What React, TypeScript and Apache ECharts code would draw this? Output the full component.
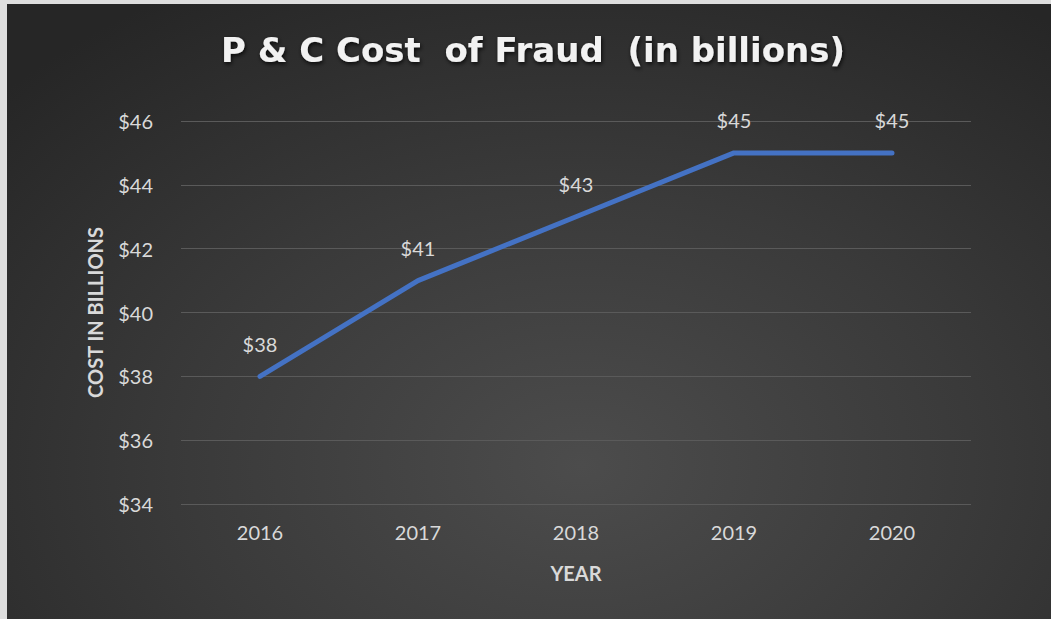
import React, { useEffect, useRef } from "react";
import * as echarts from "echarts";

const years = ["2016", "2017", "2018", "2019", "2020"];
const costs = [38, 41, 43, 45, 45];
const titleText = "P & C Cost  of Fraud  (in billions)";
const yAxisTitle = "COST IN BILLIONS";
const xAxisTitle = "YEAR";

const FONT = "Lato, 'Open Sans', sans-serif";

export default function App() {
  const ref = useRef<HTMLDivElement>(null);
  useEffect(() => {
    document.body.style.margin = "0";
    const chart = echarts.init(ref.current!, null, { renderer: "svg" });
    chart.setOption({
      animation: false,
      backgroundColor: "transparent",
      title: {
        text: titleText,
        left: 209,
        top: 24,
        textStyle: {
          color: "#f2f2f2",
          fontFamily: "'DejaVu Sans', sans-serif",
          fontWeight: "bold",
          fontSize: 34,
          textShadowColor: "rgba(0,0,0,0.8)",
          textShadowBlur: 4,
          textShadowOffsetX: 1,
          textShadowOffsetY: 2,
        },
      },
      grid: { left: 174, right: 80, top: 117, bottom: 115 },
      xAxis: {
        type: "category",
        data: years,
        boundaryGap: true,
        name: xAxisTitle,
        nameLocation: "middle",
        nameGap: 59,
        nameTextStyle: { color: "#d9d9d9", fontFamily: FONT, fontWeight: "bold", fontSize: 20 },
        axisLine: { show: false },
        axisTick: { show: false },
        axisLabel: { color: "#d9d9d9", fontFamily: FONT, fontSize: 20, margin: 18 },
      },
      yAxis: {
        type: "value",
        min: 34,
        max: 46,
        interval: 2,
        name: yAxisTitle,
        nameLocation: "middle",
        nameGap: 76,
        nameRotate: 90,
        nameTextStyle: { color: "#d9d9d9", fontFamily: FONT, fontWeight: "bold", fontSize: 20 },
        axisLine: { show: false },
        axisTick: { show: false },
        splitLine: { lineStyle: { color: "#5a5a5a", width: 1 } },
        axisLabel: {
          color: "#d9d9d9",
          fontFamily: FONT,
          fontSize: 20,
          margin: 28,
          formatter: (v: number) => "$" + v,
        },
      },
      series: [
        {
          type: "line",
          data: costs,
          symbol: "circle",
          symbolSize: 1,
          showSymbol: true,
          itemStyle: { color: "rgba(0,0,0,0)" },
          lineStyle: { color: "#4472C4", width: 5, cap: "round", join: "round" },
          label: {
            show: true,
            position: "top",
            distance: 22,
            color: "#d9d9d9",
            fontFamily: FONT,
            fontSize: 20,
            formatter: (p: any) => "$" + p.value,
          },
        },
      ],
    });
    return () => chart.dispose();
  }, []);
  return (
    <div style={{ position: "fixed", left: 0, top: 0, width: 1051, height: 619, background: "#dedede" }}>
      <div
        style={{
          position: "absolute",
          left: 7,
          top: 4,
          width: 1044,
          height: 615,
          background: "radial-gradient(ellipse 75% 90% at 55% 75%, #4c4c4c 0%, #3a3a3a 50%, #262626 100%)",
        }}
      >
        <div ref={ref} style={{ width: 1044, height: 615 }} />
      </div>
    </div>
  );
}
